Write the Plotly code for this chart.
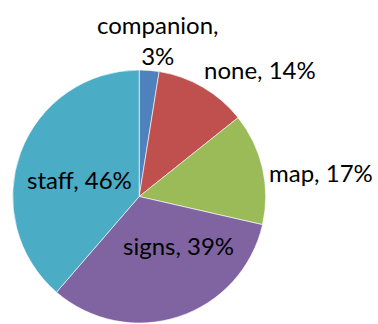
import plotly.graph_objects as go

labels = ["companion", "none", "map", "signs", "staff"]
values = [3, 14, 17, 39, 46]
pct_text = ["3%", "14%", "17%", "39%", "46%"]
colors = ["#4F81BD", "#C0504D", "#9BBB59", "#8064A2", "#4BACC6"]

W, H = 378, 324
# label anchor positions (pixels from top-left) and line breaks
label_px = [(157.5, 40), (259.5, 70), (320.5, 172), (178, 245), (79.5, 179)]
label_sep = ["<br>", " ", " ", " ", " "]

fig = go.Figure(go.Pie(
    labels=labels, values=values, sort=False, direction="clockwise", rotation=0,
    marker=dict(colors=colors, line=dict(color="white", width=0.6)),
    textinfo="none", hoverinfo="label+value",
    domain=dict(x=[12.7/W, 265.7/W], y=[1-323/H, 1-70/H]),
    showlegend=False,
))

for lab, pct, (px, py), sep in zip(labels, pct_text, label_px, label_sep):
    fig.add_annotation(x=px/W, y=1-py/H, xref="paper", yref="paper", showarrow=False,
                       xanchor="center", yanchor="middle",
                       text=f"{lab},{sep}{pct}", align="center",
                       font=dict(family="Lato", size=24, color="black"))

fig.update_layout(width=W, height=H, margin=dict(l=0, r=0, t=0, b=0),
                  paper_bgcolor="white", plot_bgcolor="white")
fig.write_html("out.html")
